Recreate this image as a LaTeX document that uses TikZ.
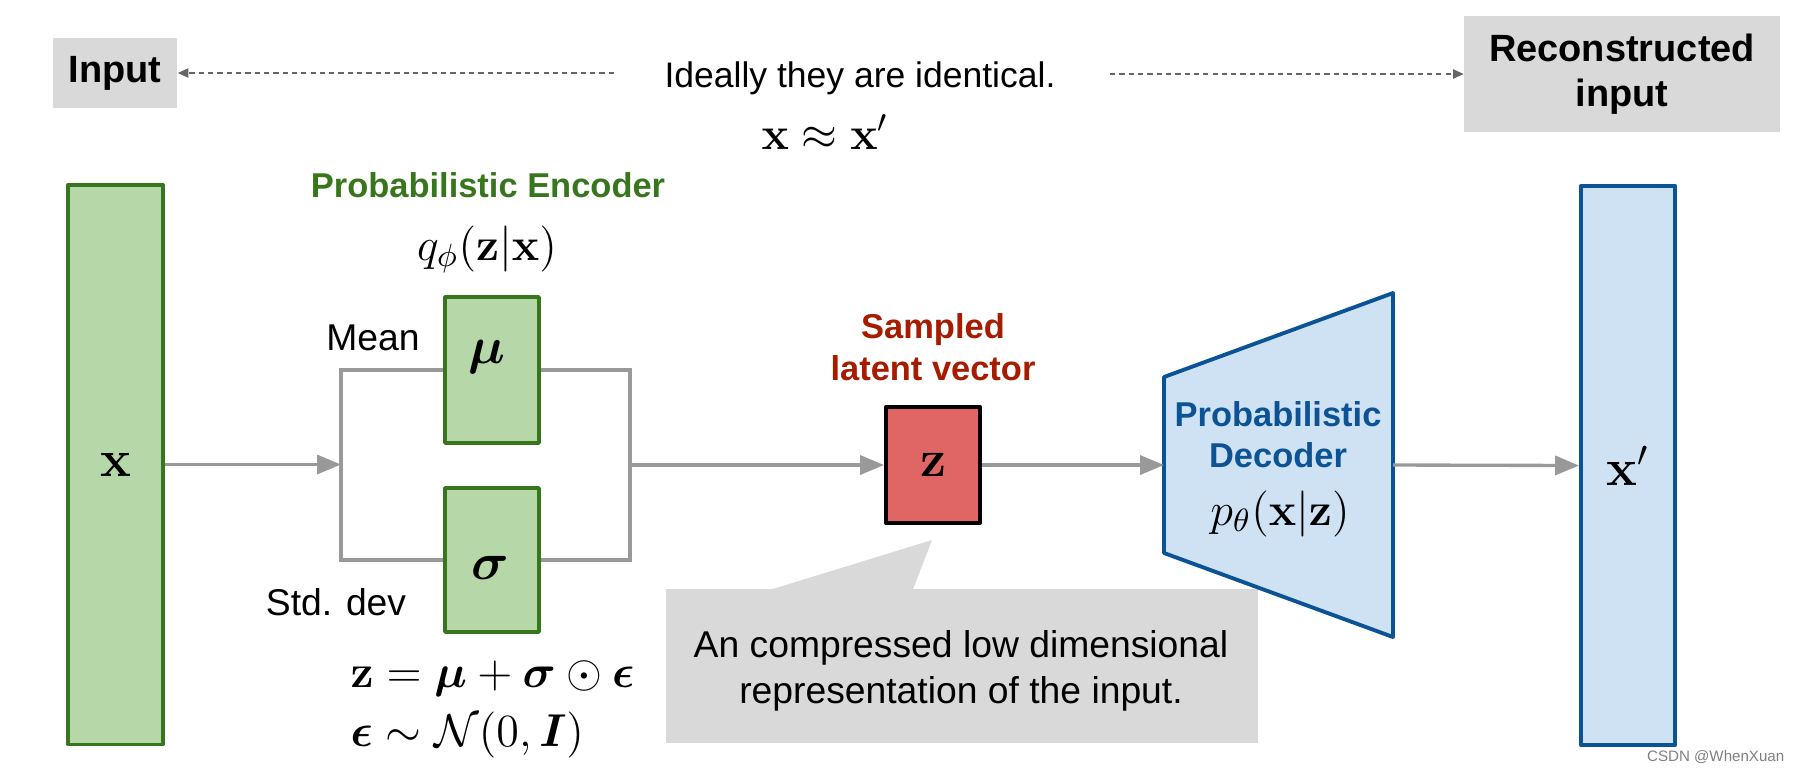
\RequirePackage{fix-cm}
\documentclass[tikz,border=0pt]{standalone}
\usepackage[no-math]{fontspec}
\setmainfont{Liberation Sans}
\usepackage{amsmath,amssymb,bm}
\usetikzlibrary{arrows.meta}
\definecolor{encgreen}{HTML}{38761D}
\definecolor{lgreen}{HTML}{B6D7A8}
\definecolor{zred}{HTML}{E06666}
\definecolor{dblue}{HTML}{0B5394}
\definecolor{lblue}{HTML}{CFE2F3}
\definecolor{samred}{HTML}{A61C00}
\definecolor{conngray}{HTML}{999999}
\definecolor{boxgray}{HTML}{D9D9D9}
\definecolor{dashgray}{HTML}{666666}
\newcommand\fsbody{\fontsize{10.6pt}{12pt}\selectfont}
\newcommand\fsideal{\fontsize{10.1pt}{12pt}\selectfont}
\newcommand\fslab{\fontsize{9.8pt}{11pt}\selectfont\bfseries}
\newcommand\fsbig{\fontsize{10.8pt}{12.8pt}\selectfont\bfseries}
\newcommand\fsmath{\fontsize{13.1pt}{15pt}\selectfont}
\newcommand\fssym{\fontsize{14.8pt}{17pt}\selectfont}
\tikzset{
  gbox/.style={draw=encgreen, fill=lgreen, line width=0.95pt, line join=round, inner sep=0pt},
  bbox/.style={draw=dblue, fill=lblue, line width=1.1pt, line join=round, inner sep=0pt},
  rbox/.style={draw=black, fill=zred, line width=1.1pt, line join=round, inner sep=0pt},
  greybox/.style={fill=boxgray, inner sep=0pt},
  conn/.style={draw=conngray, line width=0.95pt},
  arr/.style={conn, -{Triangle[length=6.8pt,width=5.4pt]}},
  dasharr/.style={draw=dashgray, line width=0.5pt, dash pattern=on 1.5pt off 1.15pt,
                  -{Triangle[length=3pt,width=2.6pt]}},
  txt/.style={inner sep=0pt, anchor=base, font=\fsbody},
}
\begin{document}
\begin{tikzpicture}[x=0.01cm, y=-0.01cm]
\useasboundingbox (0,0) rectangle (1801,769);

% top row
\node[greybox, minimum width=1.24cm, minimum height=0.70cm, font=\fsbig] (inp) at (115,73) {Input};
\node[greybox, minimum width=3.15cm, minimum height=1.16cm, font=\fsbig, align=center] (rec) at (1622,74) {Reconstructed\\input};
\node[txt, font=\fsideal] (ideal) at (860,87) {Ideally they are identical.};
\node[txt, font=\fsmath] (approx) at (825,149) {$\mathbf{x} \approx \mathbf{x}'$};
\coordinate (dl) at (614,73);
\coordinate (dr) at (1110,74);
\draw[dasharr] (dl) -- (inp.east);
\draw[dasharr] (dr) -- (rec.west);

% encoder
\node[gbox, minimum width=0.95cm, minimum height=5.59cm, font=\fssym] (x) at (115.5,464.5) {$\mathbf{x}$};
\node[txt, font=\fslab, text=encgreen] (enc) at (488,197) {Probabilistic Encoder};
\node[txt, font=\fsmath] (q) at (487,260) {$q_\phi(\mathbf{z}|\mathbf{x})$};
\node[gbox, minimum width=0.94cm, minimum height=1.46cm] (mu) at (492,370) {};
\node[gbox, minimum width=0.94cm, minimum height=1.44cm] (sigma) at (492,560) {};
\node[inner sep=0pt, font=\fssym] (mut) at (487,357) {$\bm{\mu}$};
\node[inner sep=0pt, font=\fssym] (sigt) at (490,568) {$\bm{\sigma}$};
\node[txt] (mean) at (373,350) {Mean};
\node[txt] (std) at (336,615) {Std. dev};
\node[txt, anchor=base west, font=\fsmath] (eq1) at (350,687) {$\mathbf{z} = \bm{\mu} + \bm{\sigma} \odot \bm{\epsilon}$};
\node[txt, anchor=base west, font=\fsmath] (eq2) at (350,746) {$\bm{\epsilon} \sim \mathcal{N}(0, \bm{I})$};
\coordinate (jl) at (341,464.5);
\coordinate (jr) at (630,465);
\draw[arr] (x.east) -- (jl);
\draw[conn] (mu.west) -| (jl) |- (sigma.west);
\draw[conn] (mu.east) -| (jr) |- (sigma.east);

% latent
\node[rbox, minimum width=0.94cm, minimum height=1.16cm, font=\fssym] (z) at (933,465) {$\mathbf{z}$};
\node[txt, font=\fslab, text=samred] (samp1) at (933,338) {Sampled};
\node[txt, font=\fslab, text=samred] (samp2) at (933,380) {latent vector};
\draw[arr] (jr) -- (z.west);

% callout
\fill[boxgray] (763,592) -- (932,540) -- (912,592) -- cycle;
\node[greybox, minimum width=5.92cm, minimum height=1.54cm] (callout) at (962,666) {};
\node[txt] (call1) at (961,657) {An compressed low dimensional};
\node[txt] (call2) at (961,703) {representation of the input.};

% decoder
\coordinate (decL) at (1164,465);
\coordinate (decR) at (1393,465);
\draw[bbox] (1164,377) -- (1393,293) -- (1393,637) -- (1164,553) -- cycle;
\node[txt, font=\fslab, text=dblue] (dec1) at (1278,426) {Probabilistic};
\node[txt, font=\fslab, text=dblue] (dec2) at (1278,467) {Decoder};
\node[txt, font=\fsmath] (p) at (1280,525) {$p_\theta(\mathbf{x}|\mathbf{z})$};
\draw[arr] (z.east) -- (decL);

% output
\node[bbox, minimum width=0.94cm, minimum height=5.59cm, font=\fssym] (xp) at (1628,465.5) {$\mathbf{x}'$};
\draw[arr] (decR) -- (xp.west);

\node[txt, anchor=base east, font=\fontsize{4.3pt}{5pt}\selectfont, text=gray] (wm) at (1785,761) {CSDN @WhenXuan};
\end{tikzpicture}
\end{document}
